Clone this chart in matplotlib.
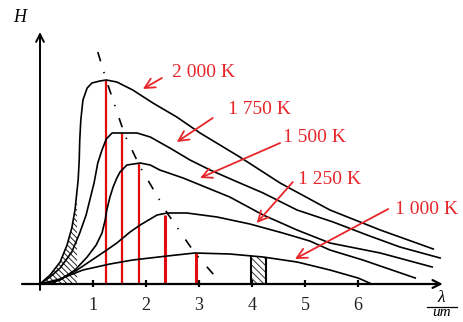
import numpy as np
import matplotlib
matplotlib.use("Agg")
import matplotlib.pyplot as plt

plt.rcParams['font.family'] = ['Liberation Serif', 'DejaVu Serif']
plt.rcParams['hatch.linewidth'] = 0.7
plt.rcParams['lines.scale_dashes'] = False

# ---- data (wavelength in um, H in arbitrary units) ----
lam_2000 = [0, 0.19, 0.38, 0.51, 0.60, 0.66, 0.72, 0.74, 0.75, 0.77, 0.81, 0.89, 0.98, 1.13, 1.25,
            1.45, 1.75, 2.13, 2.58, 3.02, 3.77, 4.53, 5.47, 6.42, 7.42]
H_2000 = [0, 0.45, 1.1, 1.95, 2.8, 3.7, 5.2, 6.2, 7.2, 8.2, 9.2, 9.8, 10.05, 10.15, 10.2,
          10.1, 9.7, 9.05, 8.35, 7.55, 6.35, 5.05, 3.7, 2.7, 1.75]

lam_1750 = [0, 0.19, 0.38, 0.60, 0.75, 0.87, 0.94, 1.02, 1.09, 1.17, 1.25, 1.36, 1.60, 1.83,
            2.08, 2.45, 2.83, 3.21, 3.64, 4.21, 4.85, 5.53, 6.17, 6.79, 7.55]
H_1750 = [0, 0.35, 0.8, 1.6, 2.55, 3.45, 4.2, 5.05, 6.05, 6.7, 7.25, 7.55, 7.55, 7.55,
          7.35, 6.8, 6.2, 5.7, 5.2, 4.55, 3.7, 3.1, 2.45, 1.85, 1.3]

lam_1500 = [0, 0.38, 0.66, 0.89, 1.06, 1.17, 1.23, 1.26, 1.32, 1.38, 1.45, 1.51, 1.64, 1.89,
            2.08, 2.26, 2.70, 3.58, 4.21, 4.85, 5.47, 6.42, 7.40]
H_1500 = [0, 0.2, 0.7, 1.35, 1.95, 2.55, 3.2, 3.7, 4.35, 4.85, 5.3, 5.6, 5.95, 6.05,
          5.95, 5.7, 5.3, 4.35, 3.45, 2.7, 2.05, 1.55, 0.85]

lam_1250 = [0, 0.25, 0.70, 1.26, 1.45, 1.70, 1.89, 2.21, 2.40, 2.77, 3.34, 3.96, 4.58, 5.09,
            5.47, 6.09, 7.08]
H_1250 = [0, 0.05, 0.7, 1.7, 2.05, 2.6, 2.95, 3.45, 3.55, 3.55, 3.35, 3.0, 2.55, 2.15,
          1.7, 1.2, 0.3]

lam_1000 = [0, 0.38, 0.81, 1.32, 1.75, 2.40, 2.92, 3.58, 4.21, 4.85, 5.47, 6.0, 6.26]
H_1000 = [0, 0.25, 0.7, 1.0, 1.2, 1.4, 1.55, 1.5, 1.35, 1.1, 0.7, 0.3, 0.0]

curves = [(lam_2000, H_2000), (lam_1750, H_1750), (lam_1500, H_1500),
          (lam_1250, H_1250), (lam_1000, H_1000)]

# peak wavelengths (red verticals) and their heights
peak_lam = [1.25, 1.55, 1.87, 2.36, 2.94]
peak_H = [10.2, 7.55, 6.0, 3.45, 1.55]
peak_lw = [1.6, 1.6, 1.6, 2.2, 2.2]

# Wien displacement locus (dash-dot)
wien_lam = [1.09, 1.25, 1.60, 1.89, 2.40, 2.92, 3.40]
wien_H = [11.6, 10.2, 7.45, 5.85, 3.55, 1.55, 0.1]

# temperature labels and arrow (text position, arrow tip)
temp_labels = ["2 000 K", "1 750 K", "1 500 K", "1 250 K", "1 000 K"]
label_pos = [(2.49, 10.55), (3.55, 8.7), (4.58, 7.3), (4.87, 5.25), (6.70, 3.75)]
arrow_start = [(2.30, 10.3), (3.26, 8.3), (4.53, 7.05), (4.77, 5.1), (6.57, 3.75)]
arrow_end = [(1.94, 9.75), (2.58, 7.1), (3.02, 5.3), (4.09, 3.05), (4.81, 1.25)]

# hatched bands
band_left = [0.0, 0.70]
band_right = [3.98, 4.26]

xticks = [1, 2, 3, 4, 5, 6]
xticklabels = ["1", "2", "3", "4", "5", "6"]

RED = '#e8262a'
LRED = '#e30b0b'

fig = plt.figure(figsize=(4.64, 3.22), dpi=100)
ax = fig.add_axes([0, 0, 1, 1])
ax.set_xlim(-40 / 53, 424 / 53)
ax.set_ylim(-1.9, 14.2)
ax.axis('off')

# hatched areas
xl = np.linspace(band_left[0], band_left[1], 60)
yl = np.interp(xl, lam_2000, H_2000)
ax.fill_between(xl, 0, yl, facecolor='none', edgecolor='#222222', hatch='\\\\\\\\\\\\', lw=0)
xr = np.linspace(band_right[0], band_right[1], 20)
yr = np.interp(xr, lam_1000, H_1000)
ax.fill_between(xr, 0, yr, facecolor='none', edgecolor='#333333', hatch='\\\\\\\\\\', lw=0)
ax.vlines(band_right, 0, np.interp(band_right, lam_1000, H_1000), colors='black', lw=1.5)

# red peak lines
for lx, hy, lw in zip(peak_lam, peak_H, peak_lw):
    ax.vlines(lx, 0, hy, colors=LRED, lw=lw, zorder=2)

# curves
for lx, hy in curves:
    ax.plot(lx, hy, color='black', lw=1.2, zorder=3, solid_joinstyle='round')

# Wien locus
ax.plot(wien_lam, wien_H, color='black', lw=1.2, linestyle=(0, (7, 8, 1, 9)), zorder=3)

# axes with arrows
ax.annotate('', xy=(7.6, 0), xytext=(-0.34, 0),
            arrowprops=dict(arrowstyle='->', lw=1.6, color='black',
                            mutation_scale=14, shrinkA=0, shrinkB=0))
ax.annotate('', xy=(0, 12.6), xytext=(0, -0.3),
            arrowprops=dict(arrowstyle='->', lw=1.4, color='black',
                            mutation_scale=14, shrinkA=0, shrinkB=0))
ax.vlines(xticks, -0.15, 0.2, colors='black', lw=1.6)
for t, s in zip(xticks, xticklabels):
    ax.text(t, -1.1, s, ha='center', va='center', fontsize=13, color='#222222')

ax.text(-0.38, 13.3, 'H', ha='center', va='center', fontsize=13, style='italic')
ax.text(7.57, -0.68, 'λ', ha='center', va='center', fontsize=12.5, style='italic')
ax.plot([7.30, 7.87], [-1.17, -1.17], color='black', lw=0.9)
ax.text(7.58, -1.45, 'um', ha='center', va='center', fontsize=11, style='italic')

# temperature labels with arrows
for s, p, a0, a1 in zip(temp_labels, label_pos, arrow_start, arrow_end):
    ax.text(p[0], p[1], s, ha='left', va='center', fontsize=14, color=RED)
    ax.annotate('', xy=a1, xytext=a0,
                arrowprops=dict(arrowstyle='->,head_length=0.6,head_width=0.3', lw=1.3,
                                color=RED, mutation_scale=12, shrinkA=0, shrinkB=0))

fig.savefig('out.png', dpi=100)
